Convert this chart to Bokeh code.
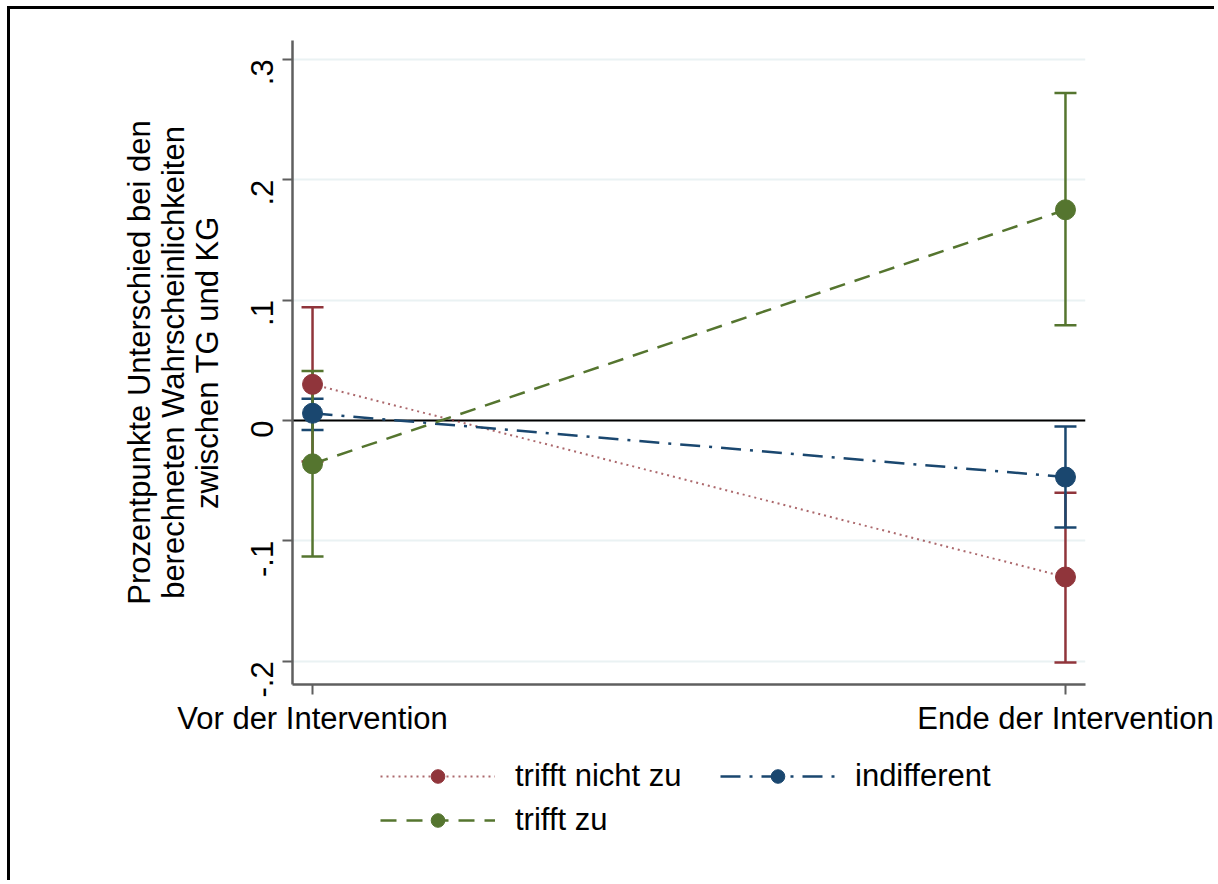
import math
from bokeh.plotting import figure
from bokeh.layouts import column
from bokeh.models import (Range1d, FixedTicker, Span, Whisker, ColumnDataSource,
                          Legend, LegendItem, TeeHead)
from bokeh.embed import file_html
from bokeh.resources import INLINE

categories = ["Vor der Intervention", "Ende der Intervention"]
x_pos = [0, 1]
series = ["trifft nicht zu", "indifferent", "trifft zu"]
nicht_est = [0.030, -0.130]
nicht_lo = [-0.034, -0.201]
nicht_hi = [0.094, -0.060]
indiff_est = [0.006, -0.047]
indiff_lo = [-0.008, -0.089]
indiff_hi = [0.018, -0.005]
zu_est = [-0.036, 0.175]
zu_lo = [-0.113, 0.079]
zu_hi = [0.041, 0.272]
y_ticks = [-0.2, -0.1, 0, 0.1, 0.2, 0.3]
y_tick_labels = ["-.2", "-.1", "0", ".1", ".2", ".3"]

FONT = "Liberation Sans"
FS = "31px"
colors = ["#90353b", "#1a476f", "#55752f"]
dashes = ["2 4", "20 9 3 9", "16 10"]
alphas = [0.75, 1.0, 1.0]
widths = [2.0, 2.5, 2.5]

LEFT, RIGHT, TOP = 282, 129, 31

p = figure(frame_width=793, frame_height=644, output_backend="svg", toolbar_location=None,
           x_range=Range1d(-0.0266, 1.0266), y_range=Range1d(-0.2193, 0.3156),
           min_border_left=LEFT, min_border_right=RIGHT, min_border_top=TOP, min_border_bottom=60,
           background_fill_color="white", border_fill_color="white")
p.outline_line_color = None

p.xgrid.visible = False
p.ygrid.grid_line_color = "#eaf2f3"
p.ygrid.grid_line_width = 2

for ax in (p.xaxis[0], p.yaxis[0]):
    ax.axis_line_color = "#5f5f5f"
    ax.axis_line_width = 2.5
    ax.major_tick_line_color = "#5f5f5f"
    ax.major_tick_line_width = 2
    ax.major_tick_out = 10
    ax.major_tick_in = 0
    ax.minor_tick_line_color = None
    ax.major_label_text_font = FONT
    ax.major_label_text_font_size = FS
    ax.major_label_text_color = "black"

p.xaxis.ticker = FixedTicker(ticks=x_pos)
p.xaxis.major_label_overrides = {x: c for x, c in zip(x_pos, categories)}
p.xaxis.major_label_standoff = 6

p.yaxis.ticker = FixedTicker(ticks=y_ticks)
p.yaxis.major_label_overrides = {t: l for t, l in zip(y_ticks, y_tick_labels)}
p.yaxis.major_label_orientation = math.pi / 2
p.yaxis.major_label_standoff = 20
p.yaxis.axis_label = "Prozentpunkte Unterschied bei den\nberechneten Wahrscheinlichkeiten\nzwischen TG und KG"
p.yaxis.axis_label_text_font = FONT
p.yaxis.axis_label_text_font_size = FS
p.yaxis.axis_label_text_font_style = "normal"
p.yaxis.axis_label_text_color = "black"
p.yaxis.axis_label_text_line_height = 0.96
p.yaxis.axis_label_standoff = 13

zero = Span(location=0, dimension="width", line_color="black", line_width=2, level="underlay")
p.add_layout(zero)

data = [(nicht_est, nicht_lo, nicht_hi), (indiff_est, indiff_lo, indiff_hi), (zu_est, zu_lo, zu_hi)]
sources = []
for name, (est, lo, hi), col in zip(series, data, colors):
    src = ColumnDataSource(dict(x=x_pos, y=est, lo=lo, hi=hi))
    sources.append(src)
    w = Whisker(source=src, base="x", upper="hi", lower="lo", line_color=col, line_width=2.5,
                upper_head=TeeHead(size=22, line_color=col, line_width=2.5),
                lower_head=TeeHead(size=22, line_color=col, line_width=2.5))
    p.add_layout(w)
for src, col, dash, a, lw in zip(sources, colors, dashes, alphas, widths):
    p.line("x", "y", source=src, line_color=col, line_width=lw, line_dash=dash, line_alpha=a)
    p.scatter("x", "y", source=src, size=20, fill_color=col, line_color=col)

# legend strip below the plot (its ranges keep the data itself out of view)
pl = figure(frame_width=793, frame_height=136, output_backend="svg", toolbar_location=None,
            x_range=Range1d(0, 1), y_range=Range1d(5, 6),
            min_border_left=LEFT, min_border_right=RIGHT, min_border_top=0, min_border_bottom=0,
            x_axis_type=None, y_axis_type=None,
            background_fill_color="white", border_fill_color="white")
pl.outline_line_color = None
pl.grid.visible = False
items = {}
for name, src, col, dash, a, lw in zip(series, sources, colors, dashes, alphas, widths):
    ln = pl.line("x", "y", source=src, line_color=col, line_width=lw, line_dash=dash, line_alpha=a)
    sc = pl.scatter("x", "y", source=src, size=22, fill_color=col, line_color=col)
    items[name] = LegendItem(label=name, renderers=[ln, sc])

legend = Legend(items=[items[series[0]], items[series[2]], items[series[1]]], ncols=2,
                location=(88, 42),
                label_text_font=FONT, label_text_font_size=FS, label_text_color="black",
                glyph_width=115, glyph_height=34, label_height=34, label_width=197,
                label_standoff=20, spacing=8, padding=0, margin=0,
                border_line_color=None, background_fill_alpha=0)
pl.add_layout(legend)

lay = column(p, pl, spacing=0,
             styles={"border-top": "3px solid black", "border-left": "3px solid black",
                     "margin-left": "7px", "margin-top": "6px"})

open("out.html", "w").write(file_html(lay, INLINE))
